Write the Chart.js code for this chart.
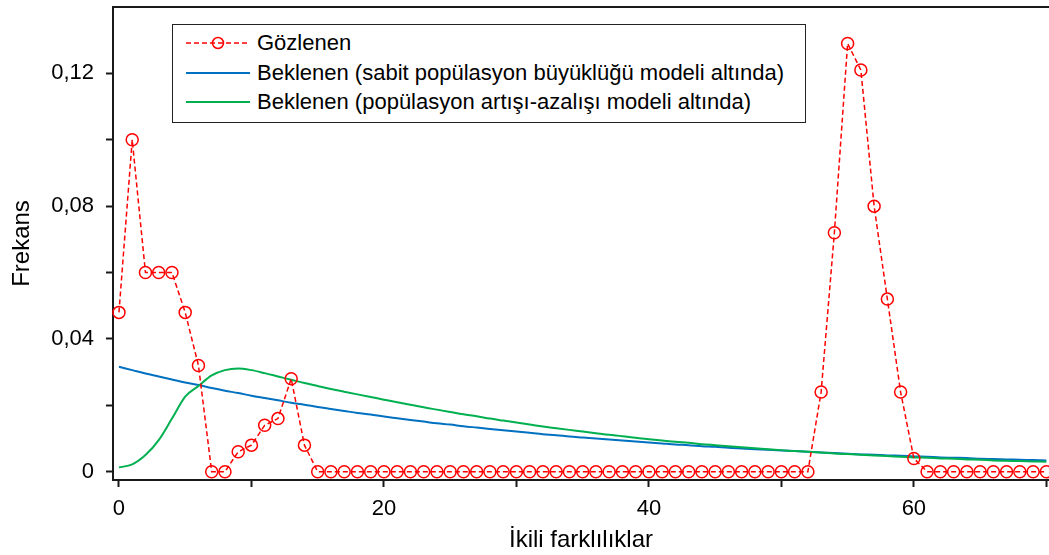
<!DOCTYPE html>
<html lang="tr">
<head>
<meta charset="UTF-8">
<title>Gözlenen ve beklenen ikili farklılıklar</title>
<script src="https://cdn.jsdelivr.net/npm/chart.js"></script>
<style>
  body { margin: 0; background: #fff; }
  #wrap { position: relative; width: 1049px; height: 555px; overflow: hidden; }
  #legend {
    position: absolute; left: 172px; top: 24px; width: 634px; height: 99px;
    box-sizing: border-box; border: 1.5px solid #222; background: #fff;
    font-family: "Liberation Sans", Arial, sans-serif; font-size: 22px; color: #000;
  }
  #legend .row { position: absolute; left: 13px; height: 28px; display: flex; align-items: center; white-space: nowrap; }
  #legend svg { margin-right: 7px; }
</style>
</head>
<body>
<div id="wrap">
  <canvas id="mmChart" width="1049" height="555"></canvas>
  <div id="legend">
    <div class="row" style="top:4px">
      <svg width="64" height="14"><line x1="0" y1="7" x2="64" y2="7" stroke="#ff0000" stroke-width="1.5" stroke-dasharray="5,3"/><circle cx="32" cy="7" r="5.5" fill="none" stroke="#ff0000" stroke-width="1.5"/></svg>Gözlenen
    </div>
    <div class="row" style="top:34px">
      <svg width="64" height="14"><line x1="0" y1="7" x2="64" y2="7" stroke="#0070c0" stroke-width="2"/></svg>Beklenen (sabit popülasyon büyüklüğü modeli altında)
    </div>
    <div class="row" style="top:63px">
      <svg width="64" height="14"><line x1="0" y1="7" x2="64" y2="7" stroke="#00b050" stroke-width="2"/></svg>Beklenen (popülasyon artışı-azalışı modeli altında)
    </div>
  </div>
</div>

<script>
// pairwise differences 0..70
var farkliliklar = [0,1,2,3,4,5,6,7,8,9,10,11,12,13,14,15,16,17,18,19,20,
  21,22,23,24,25,26,27,28,29,30,31,32,33,34,35,36,37,38,39,40,
  41,42,43,44,45,46,47,48,49,50,51,52,53,54,55,56,57,58,59,60,
  61,62,63,64,65,66,67,68,69,70];

var gozlenen = [0.048,0.100,0.060,0.060,0.060,0.048,0.032,0,0,0.006,0.008,
  0.014,0.016,0.028,0.008,0,0,0,0,0,0,
  0,0,0,0,0,0,0,0,0,0,
  0,0,0,0,0,0,0,0,0,0,
  0,0,0,0,0,0,0,0,0,0,
  0,0,0.024,0.072,0.129,0.121,0.080,0.052,0.024,0.004,
  0,0,0,0,0,0,0,0,0,0];

var sabitModel = [0.0316,0.0306,0.0296,0.0287,0.0278,0.0269,0.0261,0.0252,0.0244,0.0237,0.0229,
  0.0222,0.0215,0.0208,0.0202,0.0195,0.0189,0.0183,0.0177,0.0172,0.0166,
  0.0161,0.0156,0.0151,0.0146,0.0142,0.0137,0.0133,0.0129,0.0125,0.0121,
  0.0117,0.0113,0.0110,0.0106,0.0103,0.0100,0.0097,0.0094,0.0091,0.0088,
  0.0085,0.0082,0.0080,0.0077,0.0075,0.0072,0.0070,0.0068,0.0066,0.0064,
  0.0062,0.0060,0.0058,0.0056,0.0054,0.0052,0.0051,0.0049,0.0048,0.0046,
  0.0045,0.0043,0.0042,0.0041,0.0039,0.0038,0.0037,0.0036,0.0035,0.0034];

var artisModel = [0.0013,0.0022,0.0050,0.0095,0.0160,0.0226,0.0258,0.0290,0.0306,0.0311,0.0306,
  0.0297,0.0287,0.0277,0.0267,0.0258,0.0249,0.0241,0.0233,0.0225,0.0217,
  0.0209,0.0202,0.0194,0.0187,0.0180,0.0173,0.0167,0.0160,0.0154,0.0148,
  0.0142,0.0136,0.0131,0.0126,0.0121,0.0116,0.0111,0.0107,0.0102,0.0098,
  0.0094,0.0090,0.0087,0.0083,0.0080,0.0077,0.0074,0.0071,0.0068,0.0065,
  0.0062,0.0060,0.0058,0.0055,0.0053,0.0051,0.0049,0.0047,0.0045,0.0043,
  0.0042,0.0040,0.0039,0.0037,0.0036,0.0034,0.0033,0.0032,0.0031,0.0030];

var xTicks = [0,10,20,30,40,50,60,70];
var yTicks = [0,0.02,0.04,0.06,0.08,0.10,0.12];

function pts(ys) {
  return farkliliklar.map(function(x, i) { return { x: x, y: ys[i] }; });
}

var FONT = '"Liberation Sans", Arial, sans-serif';
var AXIS = '#1a1a1a';

// top frame line
var frame = {
  id: 'frame',
  afterDraw: function(chart) {
    var a = chart.chartArea, c = chart.ctx;
    c.save();
    c.strokeStyle = AXIS;
    c.lineWidth = 2;
    c.beginPath();
    c.moveTo(a.left, a.top);
    c.lineTo(a.right, a.top);
    c.stroke();
    c.restore();
  }
};

var ctx = document.getElementById('mmChart').getContext('2d');
var chart = new Chart(ctx, {
  type: 'line',
  data: {
    datasets: [{
      label: 'Gözlenen',
      data: pts(gozlenen),
      borderColor: '#ff0000',
      borderWidth: 1.5,
      borderDash: [5, 3],
      pointRadius: 6,
      pointBorderWidth: 1.5,
      pointBorderColor: '#ff0000',
      pointBackgroundColor: 'rgba(0,0,0,0)',
      tension: 0,
      clip: false
    }, {
      label: 'Beklenen (popülasyon artışı-azalışı modeli altında)',
      data: pts(artisModel),
      borderColor: '#00b050',
      borderWidth: 2,
      pointRadius: 0,
      cubicInterpolationMode: 'monotone'
    }, {
      label: 'Beklenen (sabit popülasyon büyüklüğü modeli altında)',
      data: pts(sabitModel),
      borderColor: '#0070c0',
      borderWidth: 2,
      pointRadius: 0,
      cubicInterpolationMode: 'monotone'
    }]
  },
  options: {
    responsive: false,
    animation: false,
    layout: { autoPadding: false, padding: { top: 7, right: 0, left: 0, bottom: 0 } },
    plugins: { legend: { display: false }, tooltip: { enabled: false } },
    scales: {
      x: {
        type: 'linear',
        min: -0.45,
        max: 70.2,
        afterBuildTicks: function(s) { s.ticks = xTicks.map(function(v) { return { value: v }; }); },
        afterFit: function(s) { s.height = 75; s.paddingLeft = 0; s.paddingRight = 0; },
        grid: { drawOnChartArea: false, tickLength: 7, tickWidth: 2, tickColor: AXIS },
        border: { color: AXIS, width: 2 },
        ticks: {
          padding: 9,
          maxRotation: 0,
          autoSkip: false,
          color: '#000',
          font: { family: FONT, size: 22 },
          callback: function(v) { return v % 20 === 0 ? String(v) : ''; }
        },
        title: {
          display: true,
          text: 'İkili farklılıklar',
          color: '#000',
          font: { family: FONT, size: 24 },
          padding: { top: 0, bottom: 0 }
        }
      },
      y: {
        min: -0.0025,
        max: 0.14,
        afterBuildTicks: function(s) { s.ticks = yTicks.map(function(v) { return { value: v }; }); },
        afterFit: function(s) { s.width = 113; s.paddingTop = 0; s.paddingBottom = 0; },
        grid: { drawOnChartArea: false, tickLength: 7, tickWidth: 2, tickColor: AXIS },
        border: { color: AXIS, width: 2 },
        ticks: {
          padding: 12,
          autoSkip: false,
          color: '#000',
          font: { family: FONT, size: 22 },
          callback: function(v) {
            var k = Math.round(v * 100);
            if (k === 0) return '0';
            return k % 4 === 0 ? v.toFixed(2).replace('.', ',') : '';
          }
        },
        title: {
          display: true,
          text: 'Frekans',
          color: '#000',
          font: { family: FONT, size: 24 },
          padding: { top: 8, bottom: 0 }
        }
      }
    }
  },
  plugins: [frame]
});
</script>
</body>
</html>
